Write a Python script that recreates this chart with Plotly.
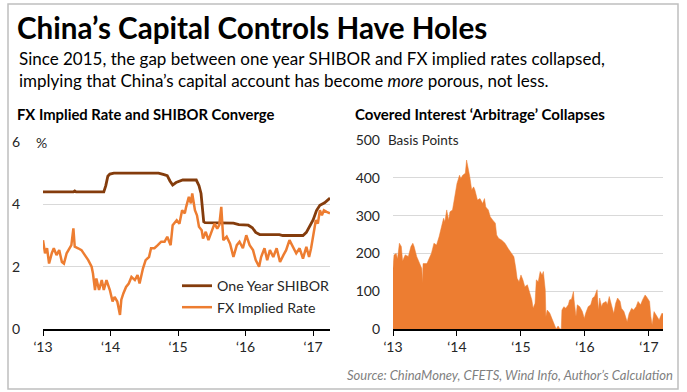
import plotly.graph_objects as go

W, H = 687, 392

# ---------------- data ----------------
shibor_x = [2013.0, 2013.45, 2013.47, 2013.49, 2013.90, 2013.93, 2013.96, 2013.99, 2014.05, 2014.71,
            2014.78, 2014.84, 2014.88, 2014.92, 2014.97, 2015.03, 2015.07, 2015.27, 2015.31, 2015.34,
            2015.36, 2015.38, 2015.40, 2015.82, 2015.90, 2016.04, 2016.10, 2016.15, 2016.21, 2016.50,
            2016.55, 2016.85, 2016.90, 2016.95, 2017.00, 2017.05, 2017.10, 2017.17, 2017.22, 2017.25]
shibor_y = [4.40, 4.40, 4.43, 4.40, 4.40, 4.60, 4.90, 4.97, 5.00, 5.00,
            4.96, 4.92, 4.75, 4.62, 4.70, 4.76, 4.78, 4.78, 4.60, 4.35,
            3.90, 3.44, 3.41, 3.40, 3.35, 3.33, 3.25, 3.10, 3.03, 3.03,
            3.00, 3.00, 3.10, 3.30, 3.50, 3.80, 3.97, 4.05, 4.15, 4.20]

fx_x = [2013.00, 2013.03, 2013.06, 2013.09, 2013.13, 2013.16, 2013.20, 2013.24, 2013.28, 2013.31,
        2013.35, 2013.39, 2013.42, 2013.45, 2013.47, 2013.52, 2013.57, 2013.62, 2013.67, 2013.72,
        2013.74, 2013.77, 2013.79, 2013.83, 2013.87, 2013.90, 2013.94, 2013.99, 2014.03, 2014.06,
        2014.10, 2014.14, 2014.16, 2014.19, 2014.23, 2014.27, 2014.31, 2014.36, 2014.40, 2014.43,
        2014.48, 2014.52, 2014.57, 2014.60, 2014.65, 2014.70, 2014.75, 2014.80, 2014.84, 2014.89,
        2014.92, 2014.98, 2015.02, 2015.06, 2015.10, 2015.12, 2015.16, 2015.19, 2015.21, 2015.25,
        2015.28, 2015.31, 2015.35, 2015.37, 2015.41, 2015.45, 2015.50, 2015.54, 2015.58, 2015.61,
        2015.64, 2015.67, 2015.72, 2015.77, 2015.82, 2015.87, 2015.91, 2015.96, 2016.01, 2016.06,
        2016.11, 2016.15, 2016.20, 2016.23, 2016.28, 2016.32, 2016.36, 2016.41, 2016.46, 2016.51,
        2016.56, 2016.60, 2016.65, 2016.70, 2016.75, 2016.80, 2016.85, 2016.90, 2016.94, 2016.97,
        2017.00, 2017.04, 2017.07, 2017.10, 2017.13, 2017.16, 2017.20, 2017.25]
fx_y = [2.85, 2.43, 2.59, 2.10, 2.43, 2.59, 2.37, 2.53, 2.15, 2.10,
        2.43, 2.59, 2.69, 3.23, 2.64, 2.59, 2.53, 2.37, 2.21, 2.00,
        1.78, 1.25, 1.62, 1.25, 1.57, 1.25, 1.57, 1.25, 0.88, 1.03,
        0.88, 0.45, 0.94, 1.14, 1.35, 1.46, 1.67, 1.57, 1.73, 1.46,
        1.94, 2.21, 2.31, 2.59, 2.59, 2.69, 2.80, 2.80, 2.96, 2.69,
        3.33, 3.49, 3.38, 3.81, 3.71, 3.92, 4.24, 4.03, 4.35, 3.81,
        3.65, 3.28, 3.17, 2.90, 3.12, 2.85, 3.17, 3.38, 3.22, 3.33,
        3.92, 2.85, 2.96, 2.74, 2.31, 2.69, 2.80, 2.59, 3.01, 2.69,
        2.53, 2.21, 2.00, 2.31, 2.59, 2.21, 2.53, 2.31, 2.59, 2.15,
        2.37, 2.53, 2.85, 2.64, 2.43, 2.59, 2.26, 2.64, 2.31, 2.59,
        2.96, 3.49, 3.38, 3.81, 3.65, 3.81, 3.76, 3.71]

cia_x = [2013.00, 2013.016, 2013.05, 2013.07, 2013.10, 2013.13, 2013.15, 2013.19, 2013.24, 2013.28,
         2013.31, 2013.33, 2013.37, 2013.41, 2013.45, 2013.46, 2013.47, 2013.53, 2013.57, 2013.60,
         2013.64, 2013.68, 2013.72, 2013.76, 2013.79, 2013.81, 2013.84, 2013.87, 2013.89, 2013.93,
         2013.97, 2014.00, 2014.04, 2014.06, 2014.09, 2014.13, 2014.15, 2014.18, 2014.20, 2014.23,
         2014.26, 2014.28, 2014.32, 2014.36, 2014.40, 2014.43, 2014.45, 2014.49, 2014.52, 2014.56,
         2014.60, 2014.62, 2014.65, 2014.70, 2014.75, 2014.80, 2014.85, 2014.89, 2014.92, 2014.94,
         2014.97, 2015.00, 2015.03, 2015.06, 2015.10, 2015.13, 2015.17, 2015.19, 2015.22, 2015.24,
         2015.27, 2015.30, 2015.33, 2015.35, 2015.38, 2015.39, 2015.41, 2015.45, 2015.49, 2015.52,
         2015.55, 2015.58, 2015.61, 2015.63, 2015.64, 2015.67, 2015.70, 2015.74, 2015.76, 2015.79,
         2015.82, 2015.83, 2015.86, 2015.88, 2015.92, 2015.96, 2015.99, 2016.01, 2016.05, 2016.09,
         2016.12, 2016.15, 2016.19, 2016.21, 2016.23, 2016.26, 2016.28, 2016.33, 2016.35, 2016.38,
         2016.41, 2016.45, 2016.48, 2016.51, 2016.55, 2016.57, 2016.61, 2016.64, 2016.66, 2016.69,
         2016.73, 2016.76, 2016.80, 2016.83, 2016.87, 2016.90, 2016.94, 2016.96, 2016.99, 2017.01,
         2017.03, 2017.05, 2017.08, 2017.12, 2017.16, 2017.20, 2017.22]
cia_y = [160, 196, 200, 185, 227, 218, 180, 196, 192, 218,
         227, 218, 192, 178, 160, 121, 173, 173, 187, 200,
         227, 222, 244, 275, 293, 284, 315, 288, 310, 315,
         359, 385, 407, 398, 407, 412, 447, 425, 403, 368,
         376, 368, 341, 345, 332, 345, 323, 315, 297, 288,
         280, 249, 240, 235, 227, 213, 200, 191, 160, 134,
         125, 143, 130, 112, 117, 99, 77, 55, 68, 130,
         125, 152, 143, 152, 103, 33, 50, 42, 24, 11,
         0, 8, 0, 0, 50, 59, 55, 64, 77, 79,
         99, 77, 33, 64, 59, 46, 28, 41, 59, 64,
         82, 86, 104, 50, 82, 59, 68, 73, 64, 86,
         68, 41, 68, 82, 73, 55, 46, 28, 19, 41,
         55, 50, 59, 73, 64, 77, 90, 86, 77, 73,
         33, 11, 46, 33, 24, 41, 41]

year_ticks = [2013, 2014, 2015, 2016, 2017]
year_labels = ["\u201813", "\u201814", "\u201815", "\u201816", "\u201817"]
left_y_ticks = [0, 2, 4, 6]
right_y_ticks = [0, 100, 200, 300, 400, 500]

# ---------------- styling ----------------
FONT = "Lato"
DARK = "#843c0c"
ORANGE = "#ed7d31"
GRID = "#d9d9d9"
TXT = "#262626"

def px_x(p):
    return p / W

def px_y(p):
    return 1 - p / H

fig = go.Figure()
fig.add_trace(go.Scatter(x=shibor_x, y=shibor_y, mode="lines", name="One Year SHIBOR",
                         line=dict(color=DARK, width=2.8), xaxis="x", yaxis="y"))
fig.add_trace(go.Scatter(x=fx_x, y=fx_y, mode="lines", name="FX Implied Rate",
                         line=dict(color=ORANGE, width=2.5), xaxis="x", yaxis="y"))
fig.add_trace(go.Scatter(x=cia_x, y=cia_y, mode="lines", name="Covered interest",
                         line=dict(color=ORANGE, width=0.5), fill="tozeroy", fillcolor=ORANGE,
                         showlegend=False, xaxis="x2", yaxis="y2"))

xcommon = dict(tickvals=year_ticks, ticktext=year_labels, ticks="outside", ticklen=5,
               tickcolor="black", tickwidth=1, showline=True, linecolor="black", linewidth=1.5,
               showgrid=False, zeroline=False, tickfont=dict(family=FONT, size=14, color=TXT),
               fixedrange=True, automargin=False)
ycommon = dict(showgrid=True, gridcolor=GRID, gridwidth=1, showline=False, zeroline=False,
               ticks="", tickfont=dict(family=FONT, size=14, color=TXT), fixedrange=True,
               automargin=False)

fig.update_layout(
    template="none",
    width=W, height=H,
    margin=dict(l=0, r=0, t=0, b=0, pad=0, autoexpand=False),
    paper_bgcolor="white", plot_bgcolor="white",
    font=dict(family=FONT, color=TXT),
    xaxis=dict(domain=[px_x(43), px_x(330)], range=[2013, 2017.25], anchor="y", **xcommon),
    yaxis=dict(domain=[px_y(329), px_y(142)], range=[0, 6], tickvals=left_y_ticks,
               anchor="x", ticklabelstandoff=22, **ycommon),
    xaxis2=dict(domain=[px_x(393), px_x(663)], range=[2013, 2017.22], anchor="y2", **xcommon),
    yaxis2=dict(domain=[px_y(329), px_y(140)], range=[0, 500], tickvals=right_y_ticks,
                anchor="x2", ticklabelstandoff=12, **ycommon),
    showlegend=True,
    legend=dict(x=px_x(177), y=px_y(270), xanchor="left", yanchor="top",
                bgcolor="rgba(0,0,0,0)", font=dict(family=FONT, size=14.2, color=TXT),
                itemwidth=30, traceorder="normal"),
    hovermode=False,
)

def note(text, x, y, anchor="left", size=14, color=TXT, **kw):
    fig.add_annotation(text=text, x=px_x(x), y=px_y(y), xref="paper", yref="paper",
                       xanchor=anchor, yanchor="middle", showarrow=False,
                       font=dict(family=FONT, size=size, color=color), **kw)

note("<b>China\u2019s Capital Controls Have Holes</b>", 15, 28, size=29.6, color="black")
note("Since 2015, the gap between one year SHIBOR and FX implied rates collapsed,", 17, 59,
     size=17, color="black")
note("implying that China\u2019s capital account has become <i>more</i> porous, not less.", 17, 81,
     size=17, color="black")
note("<b>FX Implied Rate and SHIBOR Converge</b>", 15, 114, size=14.8, color="black")
note("<b>Covered Interest \u2018Arbitrage\u2019 Collapses</b>", 353, 114, size=15, color="black")
note("%", 33, 142, bgcolor="white", borderpad=2)
note("Basis Points", 383, 140, size=13.5, bgcolor="white", borderpad=4)
note("<i>Source: ChinaMoney, CFETS, Wind Info, Author\u2019s Calculation</i>", 675, 375,
     anchor="right", size=13, color="#7f7f7f")

fig.add_shape(type="rect", xref="paper", yref="paper",
              x0=px_x(8), x1=px_x(678), y0=px_y(389), y1=px_y(4),
              line=dict(color="#bfbfbf", width=1.5), fillcolor="rgba(0,0,0,0)", layer="below")

fig.write_html("out.html", config={"displayModeBar": False, "staticPlot": True},
               post_script="document.body.style.margin='0px';")
